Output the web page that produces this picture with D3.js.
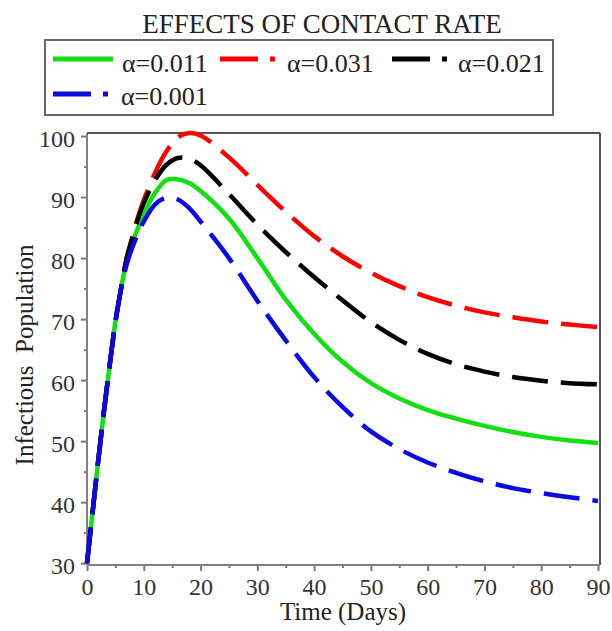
<!DOCTYPE html>
<html>
<head>
<meta charset="utf-8">
<script src="https://cdn.jsdelivr.net/npm/d3@7"></script>
<style>
  body { margin: 0; background: #fff; }
  svg text { font-family: "Liberation Serif", "Times New Roman", serif; }
</style>
</head>
<body>
<script>
// data
var times = [0,1,2,3,4,5,6,7,8,9,10,12,14,16,18,20,25,30,35,40,45,50,55,60,65,70,75,80,85,90];
var green011 = [30,38.5,47,55,62.5,69.5,75,79.5,82.5,85,87.2,90.7,92.8,92.9,92.3,91,86.5,80,73.2,67.6,63,59.5,57,55.1,53.7,52.5,51.5,50.7,50.1,49.7];
var red031   = [30,38.5,47,55,62.5,69.5,75,80,83.5,86.8,89.5,94,97.5,99.8,100.5,100.1,96.5,92,87.6,83.6,80.3,77.6,75.4,73.6,72.2,71.1,70.3,69.6,69.1,68.7];
var black021 = [30,38.5,47,55,62.5,69.5,75,80,83.3,86.5,89,92.8,95.3,96.4,96.3,95.2,90.5,85.5,81,76.9,73.1,69.5,66.6,64.3,62.6,61.4,60.5,59.9,59.5,59.3];
var blue001  = [30,38.5,47,55,62.5,69.5,75,79,81.8,84,86,88.8,89.9,89.6,88.2,86,80,73,66.5,60.5,55.6,51.6,48.7,46.5,44.8,43.4,42.3,41.5,40.8,40.2];

var series = [
  {name: "\u03b1=0.011", values: green011, color: "#12e012", dash: null},
  {name: "\u03b1=0.031", values: red031, color: "#ff0000", dash: "36,13"},
  {name: "\u03b1=0.021", values: black021, color: "#000000", dash: "36,13"},
  {name: "\u03b1=0.001", values: blue001, color: "#0a0ae6", dash: "36,13"}
];
var xTicks = [0,10,20,30,40,50,60,70,80,90];
var yTicks = [30,40,50,60,70,80,90,100];

var serif = "'Liberation Serif', 'Times New Roman', serif";
var w = 612, h = 631;
var svg = d3.select("body").append("svg").attr("width", w).attr("height", h)
  .attr("font-family", serif);

var x = d3.scaleLinear().domain([0, 90.35]).range([87, 600]);
var y = d3.scaleLinear().domain([29.7, 100.5]).range([565, 133]);

// title
svg.append("text").attr("x", 322).attr("y", 33).attr("text-anchor", "middle")
  .attr("font-family", serif).style("font-size", "27px").attr("fill", "#222")
  .text("EFFECTS OF CONTACT RATE");

// legend
var lg = svg.append("g");
lg.append("rect").attr("x", 45).attr("y", 40).attr("width", 508).attr("height", 75)
  .attr("fill", "#fff").attr("stroke", "#666").attr("stroke-width", 2);
var legPos = [
  {lx: 53, ly: 59, tx: 122, ty: 72, len: 60},
  {lx: 220, ly: 59, tx: 287, ty: 72, len: 59},
  {lx: 392, ly: 59, tx: 458, ty: 72, len: 58},
  {lx: 53, ly: 94, tx: 121, ty: 105, len: 60}
];
series.forEach(function(s, i) {
  var p = legPos[i];
  lg.append("line").attr("x1", p.lx).attr("x2", p.lx + p.len).attr("y1", p.ly).attr("y2", p.ly)
    .attr("stroke", s.color).attr("stroke-width", 5)
    .attr("stroke-dasharray", s.dash ? "38,12,5,100" : null);
  lg.append("text").attr("x", p.tx).attr("y", p.ty).attr("font-family", serif)
    .style("font-size", "26px").attr("fill", "#222").text(s.name);
});

// axes
var minor = d3.range(5, 90, 10);
var minorY = d3.range(35, 100, 10);

function styleAxis(g) {
  g.attr("font-family", serif);
  g.select(".domain").remove();
  g.selectAll(".tick line").attr("stroke", "#777").attr("stroke-width", 2);
  g.selectAll(".tick text").attr("fill", "#333").attr("font-family", serif)
    .style("font-size", "24px");
}

svg.append("g").attr("transform", "translate(0,565)")
  .call(d3.axisBottom(x).tickValues(xTicks).tickSize(6).tickPadding(10))
  .call(styleAxis)
  .selectAll(".tick text").attr("dy", "0.71em").attr("y", 13);
svg.append("g").attr("transform", "translate(0,565)")
  .call(d3.axisBottom(x).tickValues(minor).tickSize(3).tickFormat(""))
  .call(styleAxis);

svg.append("g").attr("transform", "translate(87,0)")
  .call(d3.axisLeft(y).tickValues(yTicks).tickSize(6).tickPadding(6))
  .call(styleAxis)
  .selectAll(".tick text").attr("dy", "0.45em");
svg.append("g").attr("transform", "translate(87,0)")
  .call(d3.axisLeft(y).tickValues(minorY).tickSize(3).tickFormat(""))
  .call(styleAxis);

// frame
svg.append("line").attr("x1", 87).attr("x2", 600).attr("y1", 133).attr("y2", 133)
  .attr("stroke", "#555").attr("stroke-width", 2);
svg.append("line").attr("x1", 600).attr("x2", 600).attr("y1", 133).attr("y2", 565)
  .attr("stroke", "#555").attr("stroke-width", 2);
svg.append("line").attr("x1", 87).attr("x2", 600).attr("y1", 565).attr("y2", 565)
  .attr("stroke", "#808080").attr("stroke-width", 2);
svg.append("line").attr("x1", 87).attr("x2", 87).attr("y1", 133).attr("y2", 565)
  .attr("stroke", "#808080").attr("stroke-width", 2);

// curves
var line = d3.line()
  .x(function(d, i) { return x(times[i]); })
  .y(function(d) { return y(d); })
  .curve(d3.curveCatmullRom.alpha(0.5));

series.forEach(function(s) {
  svg.append("path").datum(s.values).attr("d", line)
    .attr("fill", "none").attr("stroke", s.color).attr("stroke-width", 4.5)
    .attr("stroke-dasharray", s.dash);
});

// axis titles
svg.append("text").attr("x", 343).attr("y", 620).attr("text-anchor", "middle")
  .attr("font-family", serif).style("font-size", "25px").attr("fill", "#222")
  .text("Time (Days)");
svg.append("text").attr("transform", "translate(33,355) rotate(-90)").attr("text-anchor", "middle")
  .attr("font-family", serif).style("font-size", "25px").attr("fill", "#222")
  .text("Infectious\u00a0\u00a0Population");
</script>
</body>
</html>
